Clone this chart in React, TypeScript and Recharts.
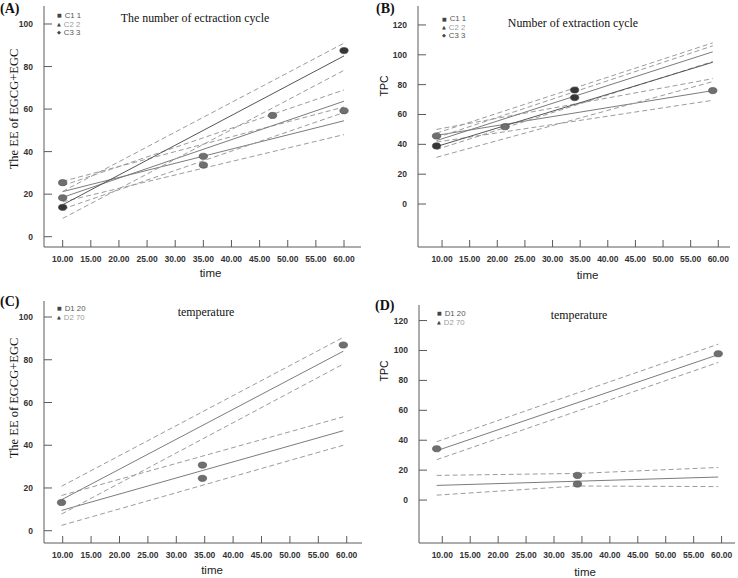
import React from "react";
import { ComposedChart, Line, Scatter, XAxis, YAxis } from "recharts";

const timeTicks = [10, 15, 20, 25, 30, 35, 40, 45, 50, 55, 60];
const eeTicks = [0, 20, 40, 60, 80, 100];
const tpcTicks = [0, 20, 40, 60, 80, 100, 120];

// (A) EE of EGCG+EGC, number of extraction cycle
const aLineTime = [10, 60];
const aFitC1 = [21.2, 54.5];
const aLowC1 = [16.4, 48.0];
const aUpC1 = [26.0, 61.0];
const aFitC2 = [18.5, 63.7];
const aLowC2 = [13.0, 58.4];
const aUpC2 = [24.0, 69.0];
const aFitC3 = [15.0, 85.0];
const aLowC3 = [8.6, 78.2];
const aUpC3 = [21.3, 91.0];
const aGrayTime = [10, 10, 35, 35, 47.3, 60];
const aGrayValue = [25.4, 18.3, 37.8, 33.7, 57.0, 59.2];
const aDarkTime = [10, 60];
const aDarkValue = [13.8, 87.5];

// (B) TPC, number of extraction cycle
const bLineTime = [9, 59];
const bFitC1 = [46.0, 76.0];
const bLowC1 = [41.5, 69.5];
const bUpC1 = [50.0, 84.0];
const bFitC2 = [42.5, 102.0];
const bLowC2 = [36.5, 95.5];
const bUpC2 = [47.5, 108.0];
const bFitC3 = [38.5, 95.0];
const bLowC3 = [31.3, 82.0];
const bUpC3 = [44.5, 106.0];
const bGrayTime = [9, 21.4, 59];
const bGrayValue = [45.6, 51.8, 76.0];
const bDarkTime = [9, 34, 34];
const bDarkValue = [38.9, 76.4, 71.3];

// (C) EE of EGCG+EGC, temperature
const cLineTime = [9.8, 59.4];
const cFitD1 = [9.5, 46.8];
const cLowD1 = [2.5, 40.0];
const cUpD1 = [16.5, 53.3];
const cFitD2 = [14.5, 84.0];
const cLowD2 = [7.8, 78.0];
const cUpD2 = [20.8, 90.5];
const cPointTime = [9.8, 34.6, 34.6, 59.4];
const cPointValue = [13.2, 30.7, 24.5, 86.9];

// (D) TPC, temperature
const dLineTime = [9, 59.4];
const dBandTime = [9, 34.2, 59.4];
const dFitD1 = [9.8, 15.4];
const dLowD1 = [3.3, 9.4, 9.0];
const dUpD1 = [16.5, 17.8, 21.8];
const dFitD2 = [33.0, 97.2];
const dLowD2 = [27.0, 92.0];
const dUpD2 = [39.0, 104.2];
const dPointTime = [9, 34.2, 34.2, 59.4];
const dPointValue = [34.3, 16.5, 10.7, 97.8];

const SANS = "'Liberation Sans', Arial, sans-serif";
const SERIF = "'Liberation Serif', 'Times New Roman', serif";
const AXIS = "#5a5a5a";
const FRAME = "#a2a2a2";
const SOLID = "#7c7c7c";
const SOLID_DARK = "#555";
const DASH = "#9c9c9c";

const pts = (xs: number[], ys: number[]) => xs.map((t, i) => ({ t, v: ys[i] }));

const XTick = (p: any) => {
  const { x, y, payload } = p;
  return (
    <g>
      <line x1={x} x2={x} y1={y} y2={y - 7} stroke={AXIS} />
      <text x={x} y={y + 12} textAnchor="middle" dominantBaseline="central" fontSize={8.5} fontWeight={700} fontFamily={SANS} fill="#333">
        {Number(payload.value).toFixed(2)}
      </text>
    </g>
  );
};

const YTick = (p: any) => {
  const { x, y, payload } = p;
  return (
    <g>
      <line x1={x} x2={x + 8} y1={y} y2={y} stroke={AXIS} />
      <text x={x - 11} y={y} textAnchor="end" dominantBaseline="central" fontSize={8.5} fontWeight={700} fontFamily={SANS} fill="#333">
        {payload.value}
      </text>
    </g>
  );
};

const dot = (fill: string) => (p: any) => (
  <ellipse cx={p.cx} cy={p.cy} rx={4.2} ry={3.1} fill={fill} stroke="#4a4a4a" strokeWidth={0.6} />
);

type Series = { data: { t: number; v: number }[]; dashed?: boolean; dark?: boolean };

function Panel(props: any) {
  const { left, top, margin, yWidth, xHeight, xDomain, yDomain, yTicks, lines, gray, dark } = props;
  return (
    <div style={{ position: "absolute", left, top }}>
      <ComposedChart width={370} height={290} margin={margin}>
        <XAxis type="number" dataKey="t" domain={xDomain} ticks={timeTicks} allowDataOverflow interval={0}
          height={xHeight} tickSize={0} tickMargin={0} tickLine={false} tick={XTick} axisLine={{ stroke: AXIS }} />
        <YAxis type="number" dataKey="v" domain={yDomain} ticks={yTicks} allowDataOverflow interval={0}
          width={yWidth} tickSize={0} tickMargin={0} tickLine={false} tick={YTick} axisLine={{ stroke: AXIS }} />
        {/* light frame on top and right */}
        <XAxis xAxisId="frame" orientation="top" type="number" domain={xDomain} allowDataOverflow height={0}
          tick={false} tickLine={false} axisLine={{ stroke: FRAME }} />
        <YAxis yAxisId="frame" orientation="right" type="number" domain={yDomain} allowDataOverflow width={0}
          tick={false} tickLine={false} axisLine={{ stroke: FRAME }} />
        {(lines as Series[]).map((l, i) => (
          <Line key={i} data={l.data} dataKey="v" type="linear" dot={false} activeDot={false}
            stroke={l.dashed ? DASH : l.dark ? SOLID_DARK : SOLID} strokeWidth={1}
            strokeDasharray={l.dashed ? "5 3" : undefined} isAnimationActive={false} />
        ))}
        {gray && <Scatter data={gray} shape={dot("#6f6f6f")} isAnimationActive={false} />}
        {dark && <Scatter data={dark} shape={dot("#363636")} isAnimationActive={false} />}
      </ComposedChart>
    </div>
  );
}

const T = (text: string, x: number, y: number, style: any = {}, tf = "") => (
  <div style={{ position: "absolute", left: x, top: y, transform: `translate(-50%,-50%) ${tf}`, whiteSpace: "nowrap", lineHeight: 1, ...style }}>
    {text}
  </div>
);

const legendRow = (mark: string, text: string, x: number, y: number, color: string) => (
  <div style={{ position: "absolute", left: x, top: y, transform: "translateY(-50%)", whiteSpace: "nowrap", lineHeight: 1, fontFamily: SANS, fontSize: 7.8, color }}>
    <span style={{ fontFamily: "'DejaVu Sans'", fontSize: 5, marginRight: 3, color: "#444", verticalAlign: "middle" }}>{mark}</span>
    {text}
  </div>
);

export default function App() {
  const title = { fontFamily: SERIF, fontSize: 13.5, color: "#111" };
  const letter = { fontFamily: SERIF, fontSize: 14, fontWeight: 700, color: "#111" };
  const timeLbl = { fontFamily: SANS, fontSize: 11.5, color: "#222" };
  return (
    <div style={{ position: "absolute", left: 0, top: 0, width: 738, height: 578, background: "#fff", overflow: "hidden" }}>
      <Panel left={0} top={0} margin={{ top: 6, right: 9, left: 0, bottom: 0 }} yWidth={44} xHeight={43}
        xDomain={[6.68, 63.02]} yDomain={[-4.84, 108.46]} yTicks={eeTicks}
        lines={[
          { data: pts(aLineTime, aFitC1) }, { data: pts(aLineTime, aLowC1), dashed: true }, { data: pts(aLineTime, aUpC1), dashed: true },
          { data: pts(aLineTime, aFitC2) }, { data: pts(aLineTime, aLowC2), dashed: true }, { data: pts(aLineTime, aUpC2), dashed: true },
          { data: pts(aLineTime, aFitC3), dark: true }, { data: pts(aLineTime, aLowC3), dashed: true }, { data: pts(aLineTime, aUpC3), dashed: true },
        ]}
        gray={pts(aGrayTime, aGrayValue)} dark={pts(aDarkTime, aDarkValue)} />
      <Panel left={368} top={0} margin={{ top: 6, right: 8, left: 0, bottom: 0 }} yWidth={50} xHeight={43}
        xDomain={[5.65, 62.12]} yDomain={[-28.8, 132.7]} yTicks={tpcTicks}
        lines={[
          { data: pts(bLineTime, bFitC1) }, { data: pts(bLineTime, bLowC1), dashed: true }, { data: pts(bLineTime, bUpC1), dashed: true },
          { data: pts(bLineTime, bFitC2) }, { data: pts(bLineTime, bLowC2), dashed: true }, { data: pts(bLineTime, bUpC2), dashed: true },
          { data: pts(bLineTime, bFitC3), dark: true }, { data: pts(bLineTime, bLowC3), dashed: true }, { data: pts(bLineTime, bUpC3), dashed: true },
        ]}
        gray={pts(bGrayTime, bGrayValue)} dark={pts(bDarkTime, bDarkValue)} />
      <Panel left={0} top={288} margin={{ top: 13, right: 8, left: 0, bottom: 0 }} yWidth={44} xHeight={35}
        xDomain={[6.71, 62.69]} yDomain={[-5.75, 107.5]} yTicks={eeTicks}
        lines={[
          { data: pts(cLineTime, cFitD1) }, { data: pts(cLineTime, cLowD1), dashed: true }, { data: pts(cLineTime, cUpD1), dashed: true },
          { data: pts(cLineTime, cFitD2) }, { data: pts(cLineTime, cLowD2), dashed: true }, { data: pts(cLineTime, cUpD2), dashed: true },
        ]}
        gray={pts(cPointTime, cPointValue)} />
      <Panel left={368} top={288} margin={{ top: 17, right: 3, left: 0, bottom: 0 }} yWidth={51} xHeight={35}
        xDomain={[5.83, 62.4]} yDomain={[-28.7, 130.4]} yTicks={tpcTicks}
        lines={[
          { data: pts(dLineTime, dFitD1) }, { data: pts(dBandTime, dLowD1), dashed: true }, { data: pts(dBandTime, dUpD1), dashed: true },
          { data: pts(dLineTime, dFitD2) }, { data: pts(dLineTime, dLowD2), dashed: true }, { data: pts(dLineTime, dUpD2), dashed: true },
        ]}
        gray={pts(dPointTime, dPointValue)} />

      {/* panel letters */}
      <div style={{ position: "absolute", left: 0, top: 1, ...letter }}>(A)</div>
      <div style={{ position: "absolute", left: 376, top: 1, ...letter }}>(B)</div>
      <div style={{ position: "absolute", left: 0, top: 294, ...letter }}>(C)</div>
      <div style={{ position: "absolute", left: 375, top: 298, ...letter }}>(D)</div>

      {/* titles */}
      {T("The number of ectraction cycle", 195, 18, title, "scaleX(0.88)")}
      {T("Number of extraction cycle", 573, 23, title, "scaleX(0.88)")}
      {T("temperature", 206, 311.5, title, "scaleX(0.88)")}
      {T("temperature", 579, 315, title, "scaleX(0.88)")}

      {/* axis titles */}
      {T("time", 210.5, 274, timeLbl)}
      {T("time", 587.5, 276, timeLbl)}
      {T("time", 212, 570.5, timeLbl)}
      {T("time", 585, 573, timeLbl)}
      {T("The EE of EGCG+EGC", 14, 109, { fontFamily: SERIF, fontSize: 12.5, color: "#111" }, "rotate(-90deg)")}
      {T("The EE of EGCG+EGC", 14, 398, { fontFamily: SERIF, fontSize: 12.5, color: "#111" }, "rotate(-90deg)")}
      {T("TPC", 384, 86, { fontFamily: SANS, fontSize: 10.5, color: "#111" }, "rotate(-90deg)")}
      {T("TPC", 384, 371, { fontFamily: SANS, fontSize: 10.5, color: "#111" }, "rotate(-90deg)")}

      {/* legends */}
      {legendRow("■", "C1 1", 57, 16, "#555")}
      {legendRow("▲", "C2 2", 57, 24.5, "#9a9a9a")}
      {legendRow("◆", "C3 3", 57, 33, "#555")}
      {legendRow("■", "C1 1", 442, 19.3, "#555")}
      {legendRow("▲", "C2 2", 442, 27.6, "#9a9a9a")}
      {legendRow("◆", "C3 3", 442, 35.9, "#555")}
      {legendRow("■", "D1 20", 57, 309, "#555")}
      {legendRow("▲", "D2 70", 57, 317.5, "#9a9a9a")}
      {legendRow("■", "D1 20", 437, 314, "#555")}
      {legendRow("▲", "D2 70", 437, 322.5, "#9a9a9a")}
    </div>
  );
}
